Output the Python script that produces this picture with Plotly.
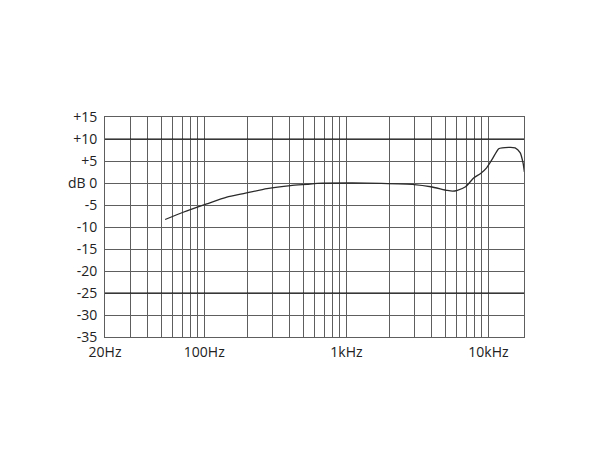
import math
import plotly.graph_objects as go

# Frequency response data
freq_hz = [53, 71, 104, 144, 189, 276, 404, 528, 622, 1100, 1760, 3000, 3930,
           5140, 5600, 6040, 6900, 7900, 8800, 9700, 10600, 11800, 12500,
           15400, 16700, 17500, 17900]
level_db = [-8.3, -6.65, -4.75, -3.2, -2.4, -1.3, -0.6, -0.3, -0.1, 0.0, -0.1,
            -0.35, -0.85, -1.7, -1.85, -1.65, -0.85, 1.2, 2.15, 3.45, 5.35,
            7.8, 8.0, 8.0, 6.9, 4.6, 2.5]

# Axis ticks
x_tick_vals = [20, 100, 1000, 10000]
x_tick_text = ["20Hz", "100Hz", "1kHz", "10kHz"]
x_minor_vals = [m * d for d in (10, 100, 1000) for m in range(2, 10) if m * d > 20]
y_tick_vals = [15, 10, 5, 0, -5, -10, -15, -20, -25, -30, -35]
y_tick_text = ["+15", "+10", "+5", "dB 0", "-5", "-10", "-15", "-20", "-25", "-30", "-35"]
dark_grid_db = [10, -25]

x_range = [math.log10(20), 4.25]
grid_gray = "#5e5e5e"
font = dict(family="Open Sans, Noto Sans, sans-serif", size=14, color="#222222")

fig = go.Figure()
fig.add_trace(go.Scatter(
    x=freq_hz, y=level_db, mode="lines",
    line=dict(color="#2b2b2b", width=1.3, shape="spline", smoothing=0.6),
    hoverinfo="skip", showlegend=False,
))

for v in dark_grid_db:
    fig.add_shape(type="line", xref="x domain", yref="y", x0=0, x1=1, y0=v, y1=v,
                  line=dict(color="#111111", width=1.2), layer="above")

fig.update_layout(
    width=600, height=450,
    margin=dict(l=97, r=84, t=109, b=121),
    paper_bgcolor="white", plot_bgcolor="white",
    font=font, showlegend=False,
    xaxis=dict(
        type="log", range=x_range,
        tickmode="array", tickvals=x_tick_vals, ticktext=x_tick_text,
        showgrid=True, gridcolor=grid_gray, gridwidth=1,
        minor=dict(tickmode="array", tickvals=x_minor_vals, showgrid=True,
                   gridcolor=grid_gray, gridwidth=1, ticks=""),
        showline=True, linecolor=grid_gray, linewidth=1, mirror=True,
        ticks="outside", ticklen=2, tickcolor="rgba(0,0,0,0)",
        zeroline=False, tickfont=font,
    ),
    yaxis=dict(
        range=[-35, 15],
        tickmode="array", tickvals=y_tick_vals, ticktext=y_tick_text,
        showgrid=True, gridcolor=grid_gray, gridwidth=1,
        showline=True, linecolor=grid_gray, linewidth=1, mirror=True,
        ticks="outside", ticklen=4, tickcolor="rgba(0,0,0,0)",
        zeroline=False, tickfont=font,
    ),
)

fig.write_html("out.html")
